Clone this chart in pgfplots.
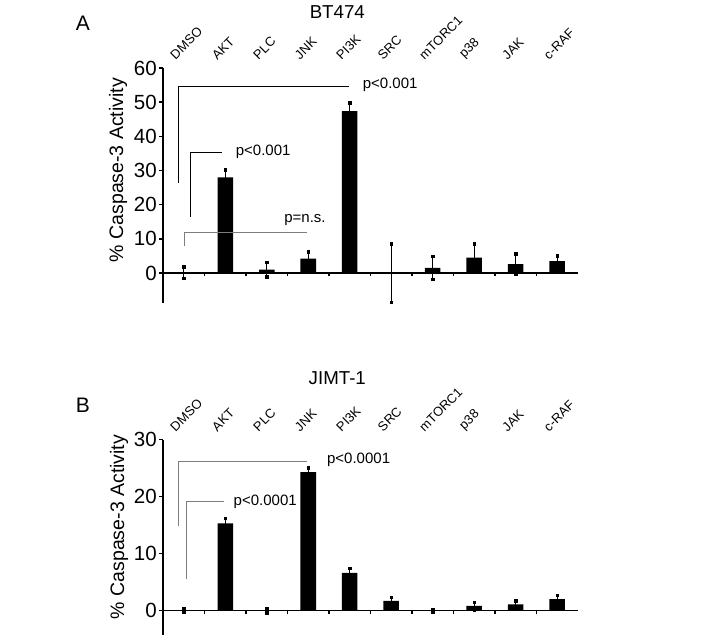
\documentclass[border=0pt]{standalone}
\usepackage{fontspec}
\setmainfont{Liberation Sans}
\usepackage{pgfplots}
\pgfplotsset{compat=1.18}
\definecolor{brgray}{RGB}{125,125,125}

\pgfplotsset{
  casp/.style={
    scale only axis, width=415pt,
    xmin=-0.5, xmax=9.5,
    axis y line=left,
    separate axis lines,
    y axis line style={-, line width=1.6pt},
    x axis line style={draw=none},
    xtick={0,...,9},
    xticklabels={DMSO,AKT,PLC,JNK,PI3K,SRC,mTORC1,p38,JAK,c-RAF},
    xticklabel pos=upper,
    xtick style={draw=none},
    xticklabel style={font=\fontsize{13}{15}\selectfont, xshift=-8pt, yshift=2pt, rotate=45, anchor=south west, inner sep=1pt},
    yticklabel style={font=\fontsize{20.5}{23}\selectfont, inner sep=2pt},
    /pgf/number format/assume math mode=true,
    ytick style={black, line width=1.4pt},
    tick align=outside, major tick length=4pt,
    ylabel={\% Caspase-3 Activity},
    ylabel style={font=\fontsize{19.5}{22}\selectfont, anchor=center},
    title style={font=\fontsize{18.7}{22}\selectfont, anchor=center},
    ybar, bar width=15.5pt,
    clip=false,
  },
  caspbars/.style={
    fill=black, draw=none,
    error bars/.cd, y dir=both, y explicit,
    error bar style={line width=1.3pt, black},
    error mark=square*,
    error mark options={mark size=1.2pt, black, line width=0.5pt},
  },
}

\newcommand{\zeroline}{%
  \draw[line width=1.6pt] (axis cs:-0.5,0) -- (axis cs:9.5,0);
  \pgfplotsinvokeforeach{0.5,1.5,2.5,3.5,4.5,5.5,6.5,7.5,8.5}{%
    \draw[line width=1.3pt] (axis cs:##1,0) -- ++(0pt,-3.5pt);}%
}

\begin{document}
\begin{tikzpicture}
\useasboundingbox (0,0) rectangle (723pt,635pt);

% panel A: BT474
\begin{axis}[casp,
  at={(163pt,332.3pt)}, anchor=south west,
  height=234.7pt,
  ymin=-8.7, ymax=60,
  ytick={0,10,...,60},
  title={BT474},
  title style={at={(axis description cs:0.42,1.214)}},
  ylabel style={at={(axis description cs:-0.108,0.565)}},
]
\addplot[caspbars] coordinates {
  (0,0.1) +- (0,1.7)
  (1,28.0) +- (0,2.2)
  (2,1.0) +- (0,2.1)
  (3,4.2) +- (0,2.0)
  (4,47.4) +- (0,2.4)
  (5,0) +- (0,8.6)
  (6,1.5) +- (0,3.4)
  (7,4.5) +- (0,4.0)
  (8,2.6) +- (0,3.0)
  (9,3.5) +- (0,1.6)
};
\zeroline
% significance brackets
\draw[line width=0.8pt] (axis cs:-0.13,26.4) -- (axis cs:-0.13,54.7) -- (axis cs:3.98,54.7);
\node[anchor=west, inner sep=0pt, font=\fontsize{15}{18}\selectfont] at (axis cs:4.31,55.0) {p<0.001};
\draw[line width=0.8pt] (axis cs:0.17,16.5) -- (axis cs:0.17,35.2) -- (axis cs:0.92,35.2);
\node[anchor=west, inner sep=0pt, font=\fontsize{15}{18}\selectfont] at (axis cs:1.25,35.5) {p<0.001};
\draw[line width=1.2pt, brgray] (axis cs:0.02,7.9) -- (axis cs:0.02,11.8) -- (axis cs:2.96,11.8);
\node[anchor=west, inner sep=0pt, font=\fontsize{15}{18}\selectfont] at (axis cs:2.42,15.5) {p=n.s.};
\end{axis}

% panel B: JIMT-1
\begin{axis}[casp,
  at={(163pt,0pt)}, anchor=south west,
  height=195.2pt,
  ymin=-4.3, ymax=30,
  ytick={0,10,20,30},
  title={JIMT-1},
  title style={at={(axis description cs:0.42,1.286)}},
  ylabel style={at={(axis description cs:-0.106,0.553)}},
]
\addplot[caspbars] coordinates {
  (0,0) +- (0,0.3)
  (1,15.3) +- (0,0.9)
  (2,0) +- (0,0.4)
  (3,24.3) +- (0,0.8)
  (4,6.6) +- (0,0.8)
  (5,1.7) +- (0,0.6)
  (6,0) +- (0,0.2)
  (7,0.8) +- (0,0.7)
  (8,1.1) +- (0,0.6)
  (9,2.0) +- (0,0.7)
};
\zeroline
\draw[line width=0.8pt, brgray] (axis cs:-0.14,14.9) -- (axis cs:-0.14,26.2) -- (axis cs:2.96,26.2);
\node[anchor=west, inner sep=0pt, font=\fontsize{15}{18}\selectfont] at (axis cs:3.45,26.5) {p<0.0001};
\draw[line width=0.8pt, brgray] (axis cs:0.06,5.5) -- (axis cs:0.06,19.1) -- (axis cs:0.97,19.1);
\node[anchor=west, inner sep=0pt, font=\fontsize{15}{18}\selectfont] at (axis cs:1.2,19.1) {p<0.0001};
\end{axis}

\node[font=\fontsize{21}{24}\selectfont] at (83pt,612pt) {A};
\node[font=\fontsize{21}{24}\selectfont] at (83pt,230pt) {B};
\end{tikzpicture}
\end{document}
